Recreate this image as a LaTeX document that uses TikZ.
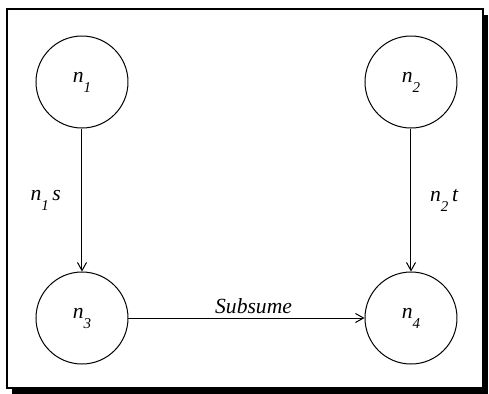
\documentclass[tikz,border=0pt]{standalone}
\usepackage{fontspec}
\setmainfont{Liberation Serif}
\usetikzlibrary{positioning, arrows.meta}

% italic n with a low subscript
\newcommand{\nsub}[1]{\textit{n}\raisebox{-5pt}{\fontsize{7.5}{8}\selectfont\textit{#1}}}

\begin{document}
\begin{tikzpicture}[
    node distance=71.5pt and 118pt,
    state/.style={circle, draw, line width=0.5pt, minimum size=46pt, inner sep=0pt, font=\fontsize{10.8}{13}\selectfont\itshape},
    arrow/.style={-{Straight Barb[length=4pt, width=4.5pt]}, line width=0.5pt},
    label/.style={font=\fontsize{10.8}{13}\selectfont\itshape}
]

\useasboundingbox (-41pt,41pt) rectangle (203.5pt,-155.5pt);

% Frame with shadow
\fill[black] (-34.75pt,33.75pt) rectangle (203.25pt,-155.75pt);
\draw[line width=1pt, fill=white] (-37.5pt,36.5pt) rectangle (200.5pt,-153pt);

% States
\node[state] (n1) at (0,0) {\nsub{1}};
\node[state, right=of n1] (n2) {\nsub{2}};
\node[state, below=of n1] (n3) {\nsub{3}};
\node[state, below=of n2] (n4) {\nsub{4}};

% Arrows with labels
\draw[arrow] (n1) -- node[left=7pt, label] {\nsub{1}\,s} (n3);
\draw[arrow] (n2) -- node[right=6pt, label] {\nsub{2}\,t} (n4);
\draw[arrow] (n3) -- node[above, pos=0.53, inner sep=2pt, label] {Subsume} (n4);

\end{tikzpicture}
\end{document}
